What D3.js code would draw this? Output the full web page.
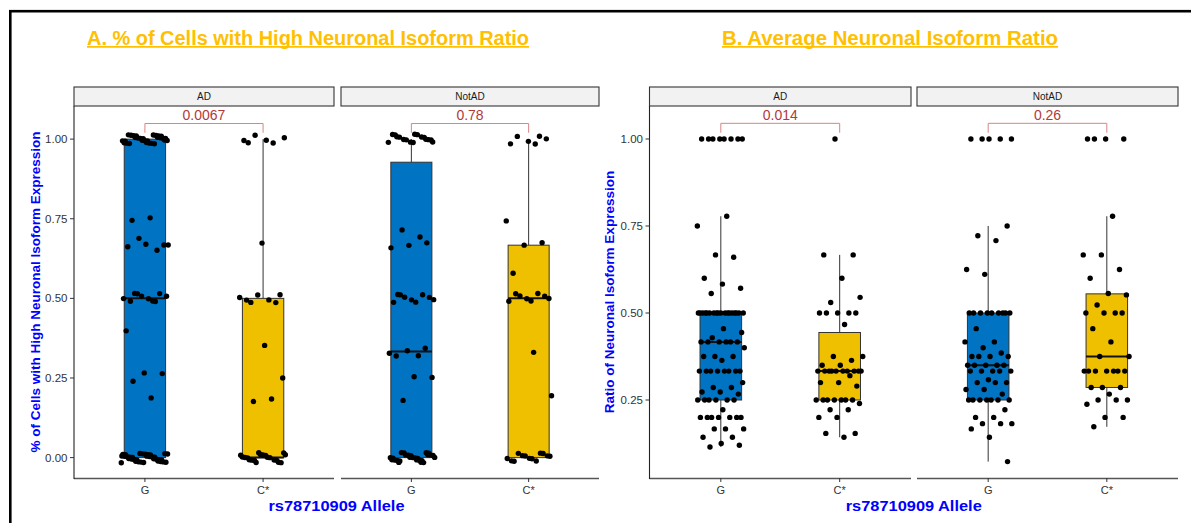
<!DOCTYPE html>
<html>
<head>
<meta charset="utf-8">
<script src="https://cdn.jsdelivr.net/npm/d3@7"></script>
<style>
  body { margin: 0; background: #fff; }
  svg { display: block; font-family: "Liberation Sans", Arial, Helvetica, sans-serif; }
</style>
</head>
<body>
<svg id="chart" width="1191" height="523"></svg>
<script>
// ---- data -------------------------------------------------------------
const alleles = ["G", "C*"];
const statusGroups = ["AD", "NotAD"];
const yTickValues = [0, 0.25, 0.5, 0.75, 1];

// % of cells with high neuronal isoform ratio (one value per donor)
const pctAD_G = [
  0,0,0,0,0, 0,0,0,0,0, 0,0,0,0,0, 0,0,0,0,0, 0,0,0,0,0, 0,0,0,0,0, 0,0,0,0,0,
  0.19, 0.25, 0.25, 0.26, 0.40,
  0.5,0.5,0.5,0.5,0.5, 0.5,0.5,0.5,0.5,0.5,
  0.66, 0.67, 0.67, 0.667, 0.68, 0.667,
  0.76, 0.76,
  1,1,1,1,1, 1,1,1,1,1, 1,1,1,1,1, 1,1,1,1,1, 1,1,1,1,1, 1,1,1,1,1
];
const pctAD_C = [
  0,0,0,0,0, 0,0,0,0,0, 0,0,0,0,0, 0,0,0,0,0,
  0.19, 0.19, 0.24, 0.35,
  0.5,0.5,0.5,0.5,0.5,0.5,0.5,
  0.67,
  1,1,1,1,1,1
];
const pctNotAD_G = [
  0,0,0,0,0, 0,0,0,0,0, 0,0,0,0,0, 0,0,0,0,0, 0,0,0,0,0, 0,0,
  0.17, 0.25, 0.26,
  0.333,0.333,0.333,0.333,0.333,
  0.5,0.5,0.5,0.5,0.5, 0.5,0.5,0.5,0.5,
  0.67, 0.67, 0.67, 0.68, 0.71,
  1,1,1,1,1, 1,1,1,1,1, 1,1,1,1,1, 1,1
];
const pctNotAD_C = [
  0,0,0,0,0, 0,0,0,0,0, 0,0,0,
  0.196, 0.34,
  0.5,0.5,0.5,0.5, 0.5,0.5,0.5,0.5,
  0.563, 0.667, 0.667, 0.751,
  1,1,1,1,1,1
];

// average neuronal isoform ratio (one value per donor)
const ratioAD_G = [
  0.115, 0.12, 0.125, 0.143, 0.143, 0.167, 0.167, 0.167,
  0.2,0.2,0.2,0.2,0.2,0.2,0.2, 0.222,
  0.25,0.25,0.25,0.25,0.25,0.25, 0.267, 0.273, 0.273, 0.286, 0.286, 0.3,
  0.333,0.333,0.333,0.333,0.333,0.333,0.333,0.333,
  0.364, 0.375, 0.375, 0.375, 0.4,
  0.417,0.417,0.417,0.417,0.417,0.417, 0.429, 0.444, 0.455,
  0.5,0.5,0.5,0.5,0.5,0.5, 0.5,0.5,0.5,0.5,0.5,0.5, 0.5,0.5,0.5,0.5,0.5,0.5,
  0.556, 0.571, 0.583, 0.6, 0.66, 0.667, 0.75, 0.778,
  1,1,1,1,1,1,1,1
];
const ratioAD_C = [
  0.143, 0.154, 0.154, 0.2, 0.2, 0.222, 0.222, 0.24,
  0.25,0.25,0.25,0.25,0.25,0.25,0.25, 0.29, 0.3, 0.3, 0.32,
  0.333,0.333,0.333,0.333,0.333, 0.333,0.333,0.333,0.333,0.333,
  0.35, 0.35, 0.364, 0.375, 0.375, 0.467,
  0.5,0.5,0.5,0.5,0.5, 0.53, 0.545, 0.6, 0.667, 0.667,
  1
];
const ratioNotAD_G = [
  0.073, 0.143, 0.167, 0.182, 0.182, 0.182, 0.2, 0.2, 0.222,
  0.25,0.25,0.25,0.25,0.25,0.25,0.25, 0.267, 0.28, 0.28, 0.3, 0.3, 0.3, 0.308,
  0.333,0.333,0.333,0.333,0.333, 0.35,0.35,0.35,0.35,0.35,
  0.375,0.375,0.375,0.375, 0.385, 0.4, 0.417, 0.417, 0.455,
  0.5,0.5,0.5,0.5,0.5,0.5,0.5,0.5,0.5,
  0.611, 0.625, 0.708, 0.722, 0.75,
  1,1,1,1,1
];
const ratioNotAD_C = [
  0.173, 0.2, 0.2, 0.238, 0.25, 0.25, 0.25, 0.267, 0.286, 0.286, 0.286,
  0.333,0.333,0.333,0.333,0.333,0.333,0.333,
  0.375, 0.375, 0.417, 0.455,
  0.5,0.5,0.5,0.5, 0.523, 0.552, 0.556, 0.6, 0.625, 0.667, 0.667, 0.778,
  1,1,1,1
];

const pctPValues = ["0.0067", "0.78"];
const ratioPValues = ["0.014", "0.26"];

// ---- styling / layout -------------------------------------------------
const alleleFill = { "G": "#0073C2", "C*": "#EFC000" };
const titleColor = "#FFC000";
const axisTitleColor = "#0000FF";
const pColor = "#B23A3A";
const bracketColor = "#D98585";

const panels = [
  {
    title: "A. % of Cells with High Neuronal Isoform Ratio",
    titleX: 308, titleWidth: 442,
    yTitle: "% of Cells with High Neuronal Isoform Expression",
    yTitleX: 35,
    series: [[pctAD_G, pctAD_C], [pctNotAD_G, pctNotAD_C]],
    pValues: pctPValues,
    yDomain: [-0.064, 1.104],
    jitterHeight: 0.016,
    bracket: { level: 1.049, tip: 1.02, label: 1.06 },
    facets: [[74, 334], [341, 599]]
  },
  {
    title: "B. Average Neuronal Isoform Ratio",
    titleX: 890, titleWidth: 336,
    yTitle: "Ratio of Neuronal Isoform Expression",
    yTitleX: 609,
    series: [[ratioAD_G, ratioAD_C], [ratioNotAD_G, ratioNotAD_C]],
    pValues: ratioPValues,
    yDomain: [0.0259, 1.0948],
    jitterHeight: 0,
    bracket: { level: 1.045, tip: 1.018, label: 1.055 },
    facets: [[649.5, 911], [917, 1178]]
  }
];

const plotTop = 106, plotBottom = 478;
const stripTop = 87, stripH = 19;

const svg = d3.select("#chart");

// outer frame
svg.append("rect")
  .attr("x", 10.3).attr("y", 11.2)
  .attr("width", 1400).attr("height", 1000)
  .attr("fill", "none").attr("stroke", "#000").attr("stroke-width", 2.6);

// quasi-random (low-discrepancy) jitter offsets in [-0.5, 0.5)
const jx = (i, k) => ((i * 0.6180339887 + k * 0.318) % 1) - 0.5;
const jy = (i, k) => ((i * 0.7548776662 + k * 0.211) % 1) - 0.5;

function boxStats(values) {
  const s = values.slice().sort(d3.ascending);
  const q1 = d3.quantileSorted(s, 0.25);
  const med = d3.quantileSorted(s, 0.5);
  const q3 = d3.quantileSorted(s, 0.75);
  const iqr = q3 - q1;
  const lo = d3.min(s.filter(v => v >= q1 - 1.5 * iqr));
  const hi = d3.max(s.filter(v => v <= q3 + 1.5 * iqr));
  return { q1, med, q3, lo, hi };
}

panels.forEach((p, pi) => {
  const g = svg.append("g");

  // panel title with underline
  g.append("text")
    .attr("x", p.titleX).attr("y", 44.5)
    .attr("text-anchor", "middle")
    .attr("font-size", 20).attr("font-weight", "bold")
    .attr("fill", titleColor)
    .attr("textLength", p.titleWidth).attr("lengthAdjust", "spacingAndGlyphs")
    .text(p.title);
  g.append("line")
    .attr("x1", p.titleX - p.titleWidth / 2).attr("x2", p.titleX + p.titleWidth / 2)
    .attr("y1", 46.8).attr("y2", 46.8)
    .attr("stroke", titleColor).attr("stroke-width", 1.7);

  const y = d3.scaleLinear().domain(p.yDomain).range([plotBottom, plotTop]);

  p.facets.forEach(([x0, x1], fi) => {
    const x = d3.scalePoint().domain(alleles).range([x0, x1]).padding(0.6);
    const step = x.step();
    const fg = g.append("g");

    // strip
    fg.append("rect")
      .attr("x", x0).attr("y", stripTop)
      .attr("width", x1 - x0).attr("height", stripH)
      .attr("fill", "#F2F2F2").attr("stroke", "#333").attr("stroke-width", 1.1);
    fg.append("text")
      .attr("x", (x0 + x1) / 2).attr("y", stripTop + 13.2)
      .attr("text-anchor", "middle").attr("font-size", 10).attr("fill", "#1a1a1a")
      .text(statusGroups[fi]);

    // boxes
    const boxW = 0.35 * step;
    alleles.forEach((a, ai) => {
      const vals = p.series[fi][ai];
      const st = boxStats(vals);
      const cx = x(a);
      fg.append("line")
        .attr("x1", cx).attr("x2", cx).attr("y1", y(st.q3)).attr("y2", y(st.hi))
        .attr("stroke", "#333").attr("stroke-width", 1);
      fg.append("line")
        .attr("x1", cx).attr("x2", cx).attr("y1", y(st.q1)).attr("y2", y(st.lo))
        .attr("stroke", "#333").attr("stroke-width", 1);
      fg.append("rect")
        .attr("x", cx - boxW / 2).attr("y", y(st.q3))
        .attr("width", boxW).attr("height", y(st.q1) - y(st.q3))
        .attr("fill", alleleFill[a]).attr("stroke", "#333").attr("stroke-width", 1);
      fg.append("line")
        .attr("x1", cx - boxW / 2).attr("x2", cx + boxW / 2)
        .attr("y1", y(st.med)).attr("y2", y(st.med))
        .attr("stroke", "#111").attr("stroke-width", 2);
    });

    // jittered points
    alleles.forEach((a, ai) => {
      const vals = p.series[fi][ai];
      const k = pi * 4 + fi * 2 + ai;
      fg.selectAll(null)
        .data(vals)
        .join("circle")
        .attr("cx", (v, i) => x(a) + jx(i, k) * 2 * 0.2 * step)
        .attr("cy", (v, i) => y(v + jy(i, k) * 2 * p.jitterHeight))
        .attr("r", 2.7)
        .attr("fill", "#000");
    });

    // comparison bracket and p-value
    const bx0 = x(alleles[0]), bx1 = x(alleles[1]);
    fg.append("path")
      .attr("d", `M${bx0},${y(p.bracket.tip)}V${y(p.bracket.level)}H${bx1}V${y(p.bracket.tip)}`)
      .attr("fill", "none").attr("stroke", bracketColor).attr("stroke-width", 1);
    fg.append("text")
      .attr("x", (bx0 + bx1) / 2).attr("y", y(p.bracket.label))
      .attr("text-anchor", "middle").attr("font-size", 14).attr("fill", pColor)
      .text(p.pValues[fi]);

    // bottom axis
    fg.append("line")
      .attr("x1", x0).attr("x2", x1).attr("y1", plotBottom + 0.5).attr("y2", plotBottom + 0.5)
      .attr("stroke", "#555").attr("stroke-width", 1.6);
    alleles.forEach(a => {
      fg.append("line")
        .attr("x1", x(a)).attr("x2", x(a)).attr("y1", plotBottom).attr("y2", plotBottom + 4)
        .attr("stroke", "#333").attr("stroke-width", 1);
      fg.append("text")
        .attr("x", x(a)).attr("y", 493.5)
        .attr("text-anchor", "middle").attr("font-size", 11).attr("fill", "#333")
        .text(a);
    });

    // left axis only on the first facet; ticks limited to the visible range
    if (fi === 0) {
      fg.append("line")
        .attr("x1", x0).attr("x2", x0).attr("y1", plotTop).attr("y2", plotBottom + 1)
        .attr("stroke", "#222").attr("stroke-width", 1.1);
      yTickValues
        .filter(t => t >= p.yDomain[0] && t <= p.yDomain[1])
        .forEach(t => {
          fg.append("line")
            .attr("x1", x0 - 4).attr("x2", x0).attr("y1", y(t)).attr("y2", y(t))
            .attr("stroke", "#333").attr("stroke-width", 1);
          fg.append("text")
            .attr("x", x0 - 6.5).attr("y", y(t) + 4)
            .attr("text-anchor", "end").attr("font-size", 11.5).attr("fill", "#333")
            .text(d3.format(".2f")(t));
        });
    }
  });

  // axis titles
  const yMid = (plotTop + plotBottom) / 2;
  g.append("text")
    .attr("transform", `translate(${p.yTitleX + 5},${yMid}) rotate(-90)`)
    .attr("text-anchor", "middle").attr("font-size", 13.5).attr("font-weight", "bold")
    .attr("fill", axisTitleColor)
    .text(p.yTitle);
  const xMid = (p.facets[0][0] + p.facets[1][1]) / 2;
  g.append("text")
    .attr("x", xMid).attr("y", 511)
    .attr("text-anchor", "middle").attr("font-size", 15).attr("font-weight", "bold")
    .attr("fill", axisTitleColor)
    .attr("textLength", 136).attr("lengthAdjust", "spacingAndGlyphs")
    .text("rs78710909 Allele");
});
</script>
</body>
</html>
